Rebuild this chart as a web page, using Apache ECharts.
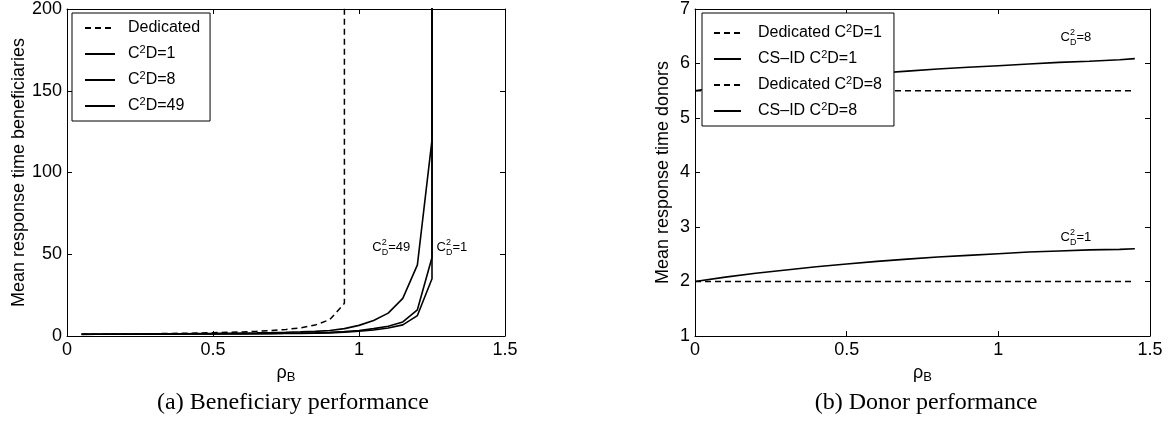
<!DOCTYPE html>
<html>
<head>
<meta charset="utf-8">
<script src="https://cdn.jsdelivr.net/npm/echarts@6/dist/echarts.min.js"></script>
<style>
html, body { margin: 0; padding: 0; background: #fff; }
#chart { width: 1174px; height: 425px; }
</style>
</head>
<body>
<div id="chart"></div>
<script>
// (a) beneficiary response time vs rho_B  (last point = off-scale blow-up)
var rhoDed = [0.05,0.1,0.15,0.2,0.25,0.3,0.35,0.4,0.45,0.5,0.55,0.6,0.65,0.7,0.75,0.8,0.85,0.9,0.95,0.95];
var dedB   = [1.05,1.11,1.18,1.25,1.33,1.43,1.54,1.67,1.82,2,2.22,2.5,2.86,3.33,4,5,6.67,10,20,1000];

var rhoB = [0.05,0.1,0.15,0.2,0.25,0.3,0.35,0.4,0.45,0.5,0.55,0.6,0.65,0.7,0.75,0.8,0.85,0.9,0.95,1,1.05,1.1,1.15,1.2,1.25,1.25];
var csB1  = [1.02,1.04,1.06,1.08,1.1,1.12,1.15,1.18,1.21,1.25,1.29,1.33,1.38,1.44,1.5,1.6,1.72,1.9,2.3,2.9,3.7,4.9,6.8,12.5,35,1000];
var csB8  = [1.03,1.05,1.08,1.1,1.13,1.16,1.19,1.23,1.27,1.31,1.36,1.42,1.48,1.56,1.65,1.78,1.95,2.2,2.7,3.4,4.5,6,8.6,16,48,1000];
var csB49 = [1.05,1.1,1.15,1.2,1.25,1.3,1.36,1.42,1.5,1.58,1.67,1.78,1.9,2.05,2.25,2.5,2.8,3.4,4.5,6.5,9.5,14,23,43.5,120,1000];

// (b) donor response time vs rho_B
var rhoD   = [0,0.1,0.2,0.3,0.4,0.5,0.6,0.7,0.8,0.9,1,1.1,1.2,1.3,1.4,1.45];
var dedD1  = [2,2,2,2,2,2,2,2,2,2,2,2,2,2,2,2];
var csD1   = [2,2.08,2.15,2.21,2.27,2.32,2.37,2.41,2.45,2.48,2.51,2.54,2.56,2.58,2.59,2.6];
var dedD8  = [5.5,5.5,5.5,5.5,5.5,5.5,5.5,5.5,5.5,5.5,5.5,5.5,5.5,5.5,5.5,5.5];
var csD8   = [5.5,5.58,5.64,5.7,5.74,5.78,5.82,5.86,5.9,5.93,5.96,5.99,6.02,6.04,6.07,6.09];

var xTicksB = [0, 1.5, 0.5];   // min, max, interval
var yTicksB = [0, 200, 50];
var xTicksD = [0, 1.5, 0.5];
var yTicksD = [1, 7, 1];

var sans = 'Liberation Sans, Arial, sans-serif';
var serif = 'Liberation Serif, Times New Roman, serif';
var chart = echarts.init(document.getElementById('chart'));

function pairs(xs, ys) {
  return xs.map(function (x, i) { return [x, ys[i]]; });
}

function axisPair(dim, grid, t, extra) {
  var base = {
    type: 'value', gridIndex: grid, min: t[0], max: t[1], interval: t[2],
    splitLine: { show: false },
    axisLine: { show: true, onZero: false, lineStyle: { color: '#000', width: 1 } },
    axisTick: { show: true, inside: true, length: 5, lineStyle: { color: '#000' } },
    axisLabel: { show: true, color: '#000', fontSize: 18, fontFamily: sans, margin: 5,
      formatter: function (v) { return String(v); } }
  };
  var main = Object.assign({}, base, extra || {});
  var other = Object.assign({}, base, { axisLabel: { show: false } });
  main.position = dim === 'x' ? 'bottom' : 'left';
  other.position = dim === 'x' ? 'top' : 'right';
  return [main, other];
}

var xName = {
  name: 'ρ{s|B}', nameLocation: 'middle', nameGap: 21,
  nameTextStyle: { color: '#000', fontSize: 18, fontFamily: sans,
    rich: { s: { fontSize: 13, fontFamily: sans, color: '#000', padding: [9, 0, 0, 0] } } }
};

var xA = axisPair('x', 0, xTicksB, xName);
var xB = axisPair('x', 1, xTicksD, xName);
var yA = axisPair('y', 0, yTicksB, {
  name: 'Mean response time beneficiaries', nameLocation: 'middle', nameGap: 37, nameRotate: 90,
  nameTextStyle: { color: '#000', fontSize: 18, fontFamily: sans }
});
var yB = axisPair('y', 1, yTicksD, {
  name: 'Mean response time donors', nameLocation: 'middle', nameGap: 23, nameRotate: 90,
  nameTextStyle: { color: '#000', fontSize: 18, fontFamily: sans }
});

function line(name, xIdx, yIdx, xs, ys, dashed) {
  return {
    name: name, type: 'line', xAxisIndex: xIdx, yAxisIndex: yIdx,
    data: pairs(xs, ys), symbol: 'none', clip: true, animation: false,
    lineStyle: { color: '#000', width: dashed ? 1.5 : 1.6, type: dashed ? [6, 4] : 'solid' },
    itemStyle: { color: '#000' }
  };
}

function legendText(name) {
  return name.replace('C2D', 'C{s|2}D');
}

function legendBox(left, iconW, pad, textGap, names) {
  return {
    orient: 'vertical', left: left, top: 13, itemWidth: iconW, itemHeight: 12, itemGap: 8,
    padding: pad, backgroundColor: '#fff', borderColor: '#000', borderWidth: 1, borderRadius: 0,
    selectedMode: false, formatter: legendText, itemStyle: { opacity: 0 },
    textStyle: { color: '#000', fontSize: 16, fontFamily: sans, padding: [0, 0, 0, textGap],
      rich: { s: { fontSize: 11, fontFamily: sans, color: '#000', padding: [0, 0, 9, 0] } } },
    data: names
  };
}

chart.setOption({
  animation: false,
  grid: [
    { left: 67, top: 9, width: 438, height: 327 },
    { left: 695, top: 9, width: 455, height: 327 }
  ],
  xAxis: [xA[0], xA[1], xB[0], xB[1]],
  yAxis: [yA[0], yA[1], yB[0], yB[1]],
  legend: [
    legendBox(72, 30, [7, 10, 7, 12], 8, ['Dedicated', 'C2D=1', 'C2D=8', 'C2D=49']),
    legendBox(702, 27, [10, 12, 7, 11], 12,
      ['Dedicated C2D=1', 'CS\u2013ID C2D=1', 'Dedicated C2D=8', 'CS\u2013ID C2D=8'])
  ],
  series: [
    line('Dedicated', 0, 0, rhoDed, dedB, true),
    line('C2D=1', 0, 0, rhoB, csB1, false),
    line('C2D=8', 0, 0, rhoB, csB8, false),
    line('C2D=49', 0, 0, rhoB, csB49, false),
    line('Dedicated C2D=1', 2, 2, rhoD, dedD1, true),
    line('CS\u2013ID C2D=1', 2, 2, rhoD, csD1, false),
    line('Dedicated C2D=8', 2, 2, rhoD, dedD8, true),
    line('CS\u2013ID C2D=8', 2, 2, rhoD, csD8, false)
  ]
});

// curve annotations "C_D^2=n", anchored in data coordinates
var notes = [
  { axes: [0, 0], at: [1.045, 54], n: '49' },
  { axes: [0, 0], at: [1.265, 54], n: '1' },
  { axes: [2, 2], at: [1.205, 6.47], n: '8' },
  { axes: [2, 2], at: [1.205, 2.8], n: '1' }
];
var graphics = [];
notes.forEach(function (d) {
  var p = chart.convertToPixel({ xAxisIndex: d.axes[0], yAxisIndex: d.axes[1] }, d.at);
  var f = function (t, x, y, size) {
    return { type: 'text', x: x, y: y,
      style: { text: t, fill: '#000', fontSize: size, fontFamily: sans, align: 'left', verticalAlign: 'middle' } };
  };
  graphics.push({ type: 'group', x: p[0], y: p[1], children: [
    f('C', 0, 0, 13), f('2', 9.5, -5, 9), f('D', 9.5, 5, 9), f('=' + d.n, 16, 0, 13)
  ] });
});
graphics.push({ type: 'text', x: 293, y: 403,
  style: { text: '(a) Beneficiary performance', fill: '#000', fontSize: 24, fontFamily: serif, align: 'center', verticalAlign: 'middle' } });
graphics.push({ type: 'text', x: 926, y: 403,
  style: { text: '(b) Donor performance', fill: '#000', fontSize: 24, fontFamily: serif, align: 'center', verticalAlign: 'middle' } });
chart.setOption({ graphic: graphics });
</script>
</body>
</html>
